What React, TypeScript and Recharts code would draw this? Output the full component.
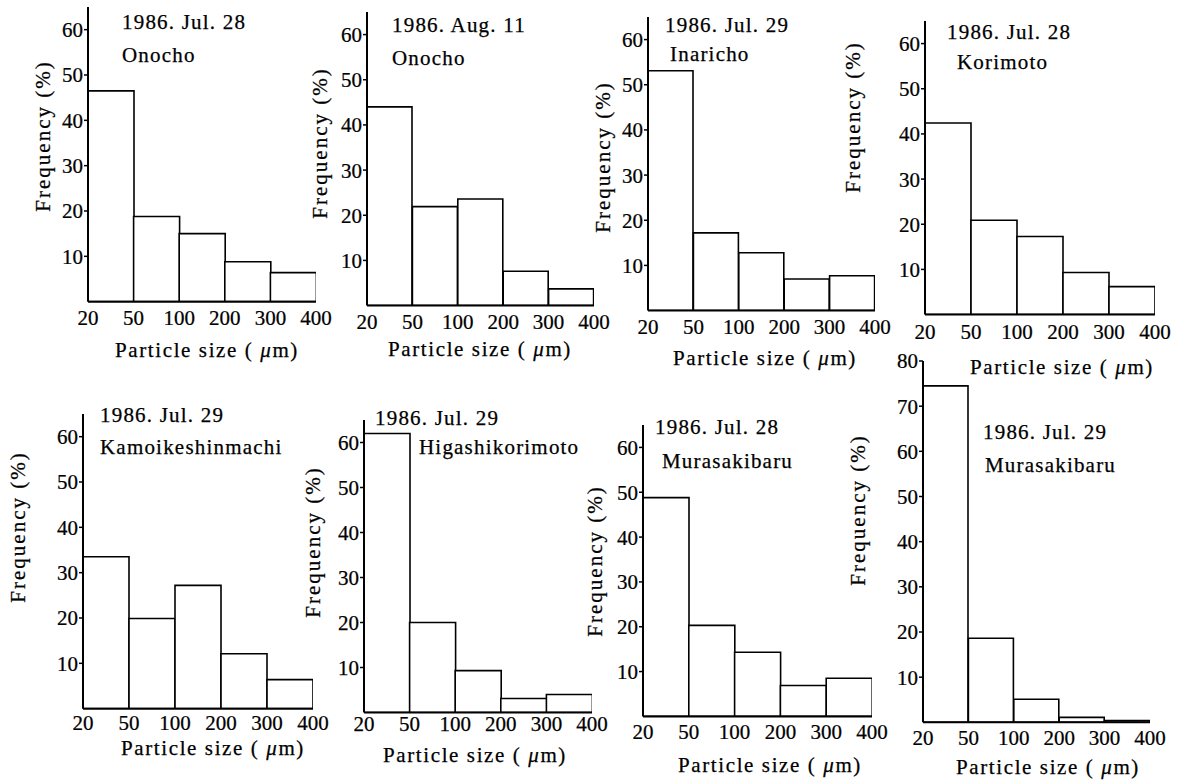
import React from 'react';
import { BarChart, Bar, XAxis, YAxis } from 'recharts';

// ---- data ----
const edgeLabels = ['20', '50', '100', '200', '300', '400'];
const bins = ['20-50', '50-100', '100-200', '200-300', '300-400'];
const edgeIndex = [0, 1, 2, 3, 4, 5];

const onochoJul28 = [46.5, 18.8, 15.0, 8.8, 6.4];
const onochoAug11 = [44.0, 21.9, 23.6, 7.6, 3.7];
const inarichoJul29 = [53.1, 17.2, 12.8, 7.0, 7.7];
const korimotoJul28 = [42.4, 20.9, 17.3, 9.3, 6.2];
const kamoikeJul29 = [33.5, 19.9, 27.2, 12.1, 6.4];
const higashiJul29 = [62.0, 20.0, 9.3, 3.1, 4.0];
const murasakiJul28 = [48.8, 20.3, 14.3, 6.9, 8.5];
const murasakiJul29 = [74.5, 18.6, 5.1, 1.1, 0.4];

const ticks60 = [10, 20, 30, 40, 50, 60];
const ticks80 = [10, 20, 30, 40, 50, 60, 70, 80];

const dates = ['1986. Jul. 28', '1986. Aug. 11', '1986. Jul. 29', '1986. Jul. 28', '1986. Jul. 29', '1986. Jul. 29', '1986. Jul. 28', '1986. Jul. 29'];
const places = ['Onocho', 'Onocho', 'Inaricho', 'Korimoto', 'Kamoikeshinmachi', 'Higashikorimoto', 'Murasakibaru', 'Murasakibaru'];
const seriesList = [onochoJul28, onochoAug11, inarichoJul29, korimotoJul28, kamoikeJul29, higashiJul29, murasakiJul28, murasakiJul29];

// ---- layout (positions only) ----
type Layout = {
  x0: number; x1: number; y0: number; y60: number; yMax: number; yTicks: number[];
  tm: number;
  dx: number; dy: number; px: number; py: number;
  fx: number; fy: number;
  lx: number; ly: number;
};

const layouts: Layout[] = [
  { x0: 88, x1: 316, y0: 302, y60: 30, yMax: 65, yTicks: ticks60, tm: 8, dx: 122, dy: 22, px: 122, py: 55, fx: 43, fy: 136, lx: 207, ly: 350 },
  { x0: 367, x1: 594, y0: 306, y60: 35, yMax: 65, yTicks: ticks60, tm: 9, dx: 392, dy: 25, px: 392, py: 58, fx: 320, fy: 143, lx: 480, ly: 349 },
  { x0: 648, x1: 875, y0: 311, y60: 40, yMax: 65, yTicks: ticks60, tm: 9, dx: 665, dy: 25, px: 670, py: 54, fx: 603, fy: 157, lx: 765, ly: 358 },
  { x0: 925, x1: 1155, y0: 315, y60: 44, yMax: 65, yTicks: ticks60, tm: 10, dx: 947, dy: 32, px: 957, py: 62, fx: 853, fy: 117, lx: 1062, ly: 367 },
  { x0: 83, x1: 313, y0: 709, y60: 437, yMax: 65, yTicks: ticks60, tm: 6, dx: 100, dy: 415, px: 100, py: 447, fx: 18, fy: 527, lx: 213, ly: 748 },
  { x0: 364, x1: 592, y0: 712, y60: 442, yMax: 65, yTicks: ticks60, tm: 4, dx: 375, dy: 418, px: 419, py: 447, fx: 313, fy: 542, lx: 475, ly: 755 },
  { x0: 643, x1: 872, y0: 716, y60: 447, yMax: 65, yTicks: ticks60, tm: 8, dx: 655, dy: 427, px: 662, py: 461, fx: 595, fy: 561, lx: 770, ly: 765 },
  { x0: 923, x1: 1150, y0: 722, y60: 451, yMax: 80, yTicks: ticks80, tm: 8, dx: 983, dy: 432, px: 985, py: 465, fx: 858, fy: 510, lx: 1048, ly: 767 },
];

const FONT = "'Liberation Serif', 'Times New Roman', 'DejaVu Serif', serif";
const YW = 60;
const XH = 40;
const MT = 18;
const MR = 28;
const textStyle = { fontFamily: FONT };

function Panel({ values, lay }: { values: number[]; lay: Layout }) {
  const data = bins.map((b, i) => ({ bin: b, mid: (edgeIndex[i] + edgeIndex[i + 1]) / 2, v: values[i] }));
  const perUnit = (lay.y0 - lay.y60) / 60;
  const topY = lay.y0 - perUnit * lay.yMax;
  const plotW = lay.x1 - lay.x0;
  const plotH = lay.y0 - topY;
  const width = plotW + YW + MR;
  const height = plotH + MT + XH;
  return (
    <div style={{ position: 'absolute', left: lay.x0 - YW, top: topY - MT, width, height }}>
      <BarChart width={width} height={height} data={data} margin={{ top: MT, right: MR, bottom: 0, left: 0 }} barCategoryGap={0} barGap={0}>
        <XAxis
          dataKey="mid"
          type="number"
          domain={[0, 5]}
          allowDataOverflow
          ticks={edgeIndex}
          interval={0}
          tickFormatter={(v: number) => edgeLabels[v]}
          height={XH}
          tickLine={false}
          tickSize={0}
          tickMargin={lay.tm}
          axisLine={{ stroke: '#000', strokeWidth: 2 }}
          tick={{ fill: '#000', fontSize: 21, style: textStyle, stroke: '#000', strokeWidth: 0.25 }}
        />
        <YAxis
          type="number"
          domain={[0, lay.yMax]}
          allowDataOverflow
          ticks={lay.yTicks}
          interval={0}
          width={YW}
          tickSize={4}
          tickMargin={1}
          tickLine={{ stroke: '#000', strokeWidth: 1.5 }}
          axisLine={{ stroke: '#000', strokeWidth: 2 }}
          tick={{ fill: '#000', fontSize: 21, style: textStyle, stroke: '#000', strokeWidth: 0.25 }}
        />
        <Bar dataKey="v" fill="#fff" stroke="#000" strokeWidth={1.6} isAnimationActive={false} />
      </BarChart>
    </div>
  );
}

export default function App() {
  const ts = { fontFamily: FONT } as React.CSSProperties;
  return (
    <div style={{ position: 'absolute', left: 0, top: 0, width: 1178, height: 780, background: '#fff', overflow: 'hidden' }}>
      {layouts.map((lay, i) => (
        <Panel key={i} values={seriesList[i]} lay={lay} />
      ))}
      <svg width={1178} height={780} style={{ position: 'absolute', left: 0, top: 0, pointerEvents: 'none' }} fill="#000" stroke="#000" strokeWidth={0.25}>
        {layouts.map((lay, i) => (
          <g key={i}>
            <text x={lay.dx} y={lay.dy} style={ts} fontSize={21} letterSpacing={1.2} dominantBaseline="central">{dates[i]}</text>
            <text x={lay.px} y={lay.py} style={ts} fontSize={21} letterSpacing={1.2} dominantBaseline="central">{places[i]}</text>
            <text x={lay.fx} y={lay.fy} style={ts} fontSize={21} letterSpacing={2} textAnchor="middle" dominantBaseline="central" transform={`rotate(-90 ${lay.fx} ${lay.fy})`}>Frequency (%)</text>
            <text x={lay.lx} y={lay.ly} style={ts} fontSize={21} letterSpacing={1.6} textAnchor="middle" dominantBaseline="central">
              Particle size ( <tspan fontStyle="italic">μ</tspan>m)
            </text>
          </g>
        ))}
      </svg>
    </div>
  );
}
